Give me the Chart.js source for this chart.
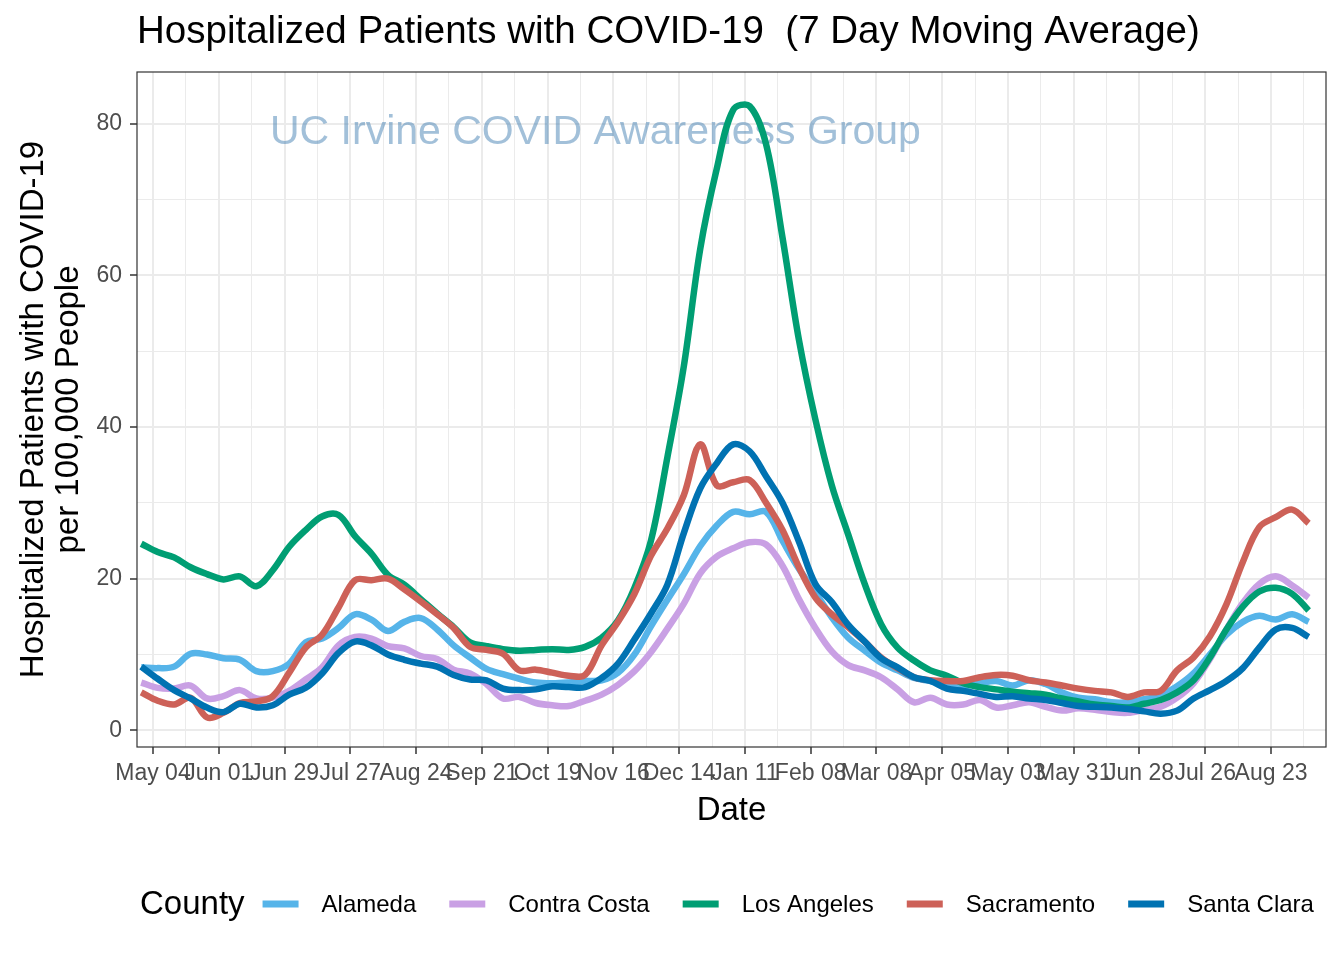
<!DOCTYPE html>
<html>
<head>
<meta charset="utf-8">
<title>Hospitalized Patients with COVID-19</title>
<script src="https://cdn.jsdelivr.net/npm/chart.js@4.4.0/dist/chart.umd.min.js"></script>
<style>
  html, body { margin: 0; padding: 0; background: #fff; }
  canvas { display: block; }
</style>
</head>
<body>
<canvas id="canvas" width="1344" height="960"></canvas>
<script>
// one value per week, first sample on 2020-04-29
var firstDate = Date.UTC(2020, 3, 29);
var tickOrigin = Date.UTC(2020, 4, 4);   // "May 04", labels every 28 days
var DAY = 864e5;

var counties = ['Alameda', 'Contra Costa', 'Los Angeles', 'Sacramento', 'Santa Clara'];
var colors = ['#56B4E9', '#C9A0E4', '#009E73', '#CD6158', '#0072B2'];

var alameda = [8.3, 8.2, 8.4, 10.1, 10.0, 9.5, 9.3, 7.8, 7.8, 8.8,
  11.6, 12.1, 13.5, 15.3, 14.6, 13.1, 14.3, 14.8, 13.3, 11.2,
  9.6, 8.1, 7.4, 6.8, 6.3, 6.2, 6.3, 6.5, 6.6, 7.6,
  10.0, 13.7, 17.2, 20.6, 24.3, 27.0, 28.8, 28.5, 28.8, 25.0,
  21.3, 18.2, 14.9, 12.2, 10.5, 8.9, 7.9, 6.9, 6.5, 6.0,
  5.8, 6.2, 6.5, 5.9, 6.6, 6.1, 5.0, 4.3, 4.1, 3.7,
  3.7, 4.1, 4.6, 5.8, 7.5, 10.0, 12.6, 14.3, 15.1, 14.6,
  15.3, 14.3];
var contraCosta = [6.3, 5.6, 5.5, 5.9, 4.2, 4.5, 5.3, 4.2, 4.3, 5.2,
  6.7, 8.3, 11.2, 12.3, 12.1, 11.1, 10.8, 9.8, 9.4, 8.0,
  7.5, 6.1, 4.2, 4.4, 3.6, 3.3, 3.2, 3.9, 4.7, 6.0,
  7.8, 10.3, 13.4, 16.7, 20.7, 22.9, 24.0, 24.8, 24.5, 21.7,
  17.3, 13.5, 10.4, 8.6, 7.9, 7.0, 5.4, 3.7, 4.3, 3.4,
  3.4, 4.0, 3.0, 3.3, 3.7, 3.1, 2.6, 2.9, 2.7, 2.4,
  2.3, 2.7, 3.1, 4.3, 6.2, 9.4, 13.3, 16.8, 19.3, 20.3,
  19.1, 17.5];
var losAngeles = [24.6, 23.5, 22.8, 21.5, 20.6, 19.9, 20.3, 19.0, 21.1, 24.2,
  26.4, 28.2, 28.4, 25.6, 23.3, 20.5, 19.2, 17.3, 15.4, 13.6,
  11.6, 11.1, 10.7, 10.5, 10.6, 10.7, 10.6, 11.0, 12.2, 14.5,
  18.8, 25.0, 36.0, 48.0, 63.5, 74.0, 81.8, 82.3, 77.3, 65.0,
  51.5, 41.0, 32.3, 25.8, 19.3, 14.0, 10.9, 9.2, 7.9, 7.2,
  6.2, 5.7, 5.4, 5.1, 4.9, 4.7, 4.2, 3.8, 3.4, 3.2,
  3.0, 3.5, 4.0, 5.0, 6.6, 9.6, 13.3, 16.3, 18.3, 18.8,
  18.0, 15.8];
var sacramento = [5.0, 3.9, 3.4, 4.3, 1.7, 2.3, 3.6, 3.8, 4.5, 7.6,
  10.9, 12.6, 16.2, 19.8, 19.8, 20.0, 18.6, 17.0, 15.3, 13.5,
  11.0, 10.6, 10.1, 7.9, 8.0, 7.6, 7.2, 7.3, 11.2, 14.3,
  18.0, 23.0, 26.6, 31.0, 37.7, 32.3, 32.7, 33.0, 30.0, 26.4,
  21.5, 17.5, 15.3, 13.6, 11.7, 9.6, 8.2, 7.0, 6.6, 6.5,
  6.5, 7.0, 7.3, 7.2, 6.6, 6.3, 5.9, 5.5, 5.2, 5.0,
  4.4, 5.0, 5.2, 7.9, 9.6, 12.4, 16.6, 22.2, 26.8, 28.1,
  29.1, 27.3];
var santaClara = [8.4, 6.8, 5.3, 4.2, 3.0, 2.4, 3.5, 3.0, 3.3, 4.7,
  5.6, 7.5, 10.2, 11.7, 11.2, 10.0, 9.3, 8.8, 8.4, 7.3,
  6.7, 6.6, 5.5, 5.3, 5.4, 5.8, 5.7, 5.7, 6.9, 8.8,
  12.0, 15.4, 19.2, 26.0, 31.9, 35.2, 37.7, 36.8, 33.5, 30.0,
  24.9, 19.3, 16.9, 13.9, 11.7, 9.5, 8.3, 7.0, 6.5, 5.5,
  5.2, 4.8, 4.4, 4.5, 4.2, 4.0, 3.6, 3.2, 3.1, 3.0,
  2.8, 2.5, 2.2, 2.6, 4.2, 5.3, 6.5, 8.2, 10.9, 13.3,
  13.5, 12.3];

var xTickLabels = ['May 04', 'Jun 01', 'Jun 29', 'Jul 27', 'Aug 24', 'Sep 21', 'Oct 19', 'Nov 16', 'Dec 14',
  'Jan 11', 'Feb 08', 'Mar 08', 'Apr 05', 'May 03', 'May 31', 'Jun 28', 'Jul 26', 'Aug 23'];
var yTickLabels = [0, 20, 40, 60, 80];

var FONT = '"Liberation Sans", Arial, Helvetica, sans-serif';
Chart.defaults.font.family = FONT;

function toPoints(values) {
  var start = (firstDate - tickOrigin) / DAY;
  return values.map(function (v, i) {
    return { x: start + 7 * i, y: v };
  });
}

var series = [alameda, contraCosta, losAngeles, sacramento, santaClara];
var datasets = series.map(function (vals, i) {
  return {
    label: counties[i],
    data: toPoints(vals),
    borderColor: colors[i],
    backgroundColor: colors[i],
    borderWidth: 6.5,
    pointRadius: 0,
    tension: 0.35,
    borderJoinStyle: 'round',
    order: series.length - i
  };
});

var decorations = {
  id: 'decorations',
  beforeDatasetsDraw: function (chart) {
    var ctx = chart.ctx;
    ctx.save();
    ctx.font = '41px ' + FONT;
    ctx.fillStyle = 'rgba(70,130,180,0.5)';
    ctx.textBaseline = 'alphabetic';
    ctx.fillText('UC Irvine COVID Awareness Group', 270, 144);
    ctx.restore();
  },
  afterDatasetsDraw: function (chart) {
    var a = chart.chartArea;
    var ctx = chart.ctx;
    ctx.save();
    ctx.strokeStyle = '#333333';
    ctx.lineWidth = 1.2;
    ctx.strokeRect(a.left, a.top, a.right - a.left, a.bottom - a.top);
    ctx.restore();
  },
  afterDraw: function (chart) {
    var ctx = chart.ctx;
    ctx.save();
    ctx.fillStyle = '#000';
    ctx.textBaseline = 'alphabetic';
    ctx.font = '38.5px ' + FONT;
    ctx.fillText('Hospitalized Patients with COVID-19  (7 Day Moving Average)', 137, 43);

    // legend, in one row under the plot
    var x = 140, y = 905;
    ctx.textBaseline = 'middle';
    ctx.font = '33px ' + FONT;
    ctx.fillText('County', x, y);
    x += ctx.measureText('County').width + 18;
    ctx.font = '24px ' + FONT;
    chart.data.datasets.forEach(function (ds) {
      ctx.strokeStyle = ds.borderColor;
      ctx.lineWidth = 7;
      ctx.beginPath();
      ctx.moveTo(x, y - 1);
      ctx.lineTo(x + 36, y - 1);
      ctx.stroke();
      x += 36 + 23;
      ctx.fillText(ds.label, x, y);
      x += ctx.measureText(ds.label).width + 33;
    });
    ctx.restore();
  }
};

function isMajorX(v) { return v % 28 === 0; }
function isMajorY(v) { return v % 20 === 0; }

var ctx = document.getElementById('canvas').getContext('2d');
var myChart = new Chart(ctx, {
  type: 'line',
  data: { datasets: datasets },
  options: {
    responsive: false,
    animation: false,
    events: [],
    layout: { padding: { top: 72, right: 18, bottom: 113, left: 0 } },
    plugins: {
      legend: { display: false },
      tooltip: { enabled: false }
    },
    scales: {
      x: {
        type: 'linear',
        min: -6.8,
        max: 499.4,
        afterBuildTicks: function (scale) {
          var t = [];
          xTickLabels.forEach(function (lab, i) {
            t.push({ value: 28 * i });
            if (28 * i + 14 <= scale.max) t.push({ value: 28 * i + 14 });
          });
          scale.ticks = t;
        },
        afterFit: function (scale) { scale.height = 100; },
        ticks: {
          autoSkip: false,
          maxRotation: 0,
          padding: 6,
          color: '#4d4d4d',
          font: { size: 23 },
          callback: function (v) { return isMajorX(v) ? xTickLabels[v / 28] : ''; }
        },
        grid: {
          color: '#ebebeb',
          lineWidth: function (c) { return c.tick && isMajorX(c.tick.value) ? 2 : 1; },
          tickColor: function (c) { return c.tick && isMajorX(c.tick.value) ? '#333333' : 'rgba(0,0,0,0)'; },
          tickLength: 7,
          tickWidth: 1.5
        },
        border: { display: false },
        title: {
          display: true,
          text: 'Date',
          color: '#000',
          font: { size: 33, lineHeight: 1.2 },
          padding: { top: 0, bottom: 16 }
        }
      },
      y: {
        min: -2.2,
        max: 86.8,
        afterBuildTicks: function (scale) {
          var t = [];
          yTickLabels.forEach(function (v) {
            t.push({ value: v });
            if (v + 10 <= scale.max) t.push({ value: v + 10 });
          });
          scale.ticks = t;
        },
        afterFit: function (scale) { scale.width = 137; },
        ticks: {
          padding: 8,
          color: '#4d4d4d',
          font: { size: 23 },
          callback: function (v) { return isMajorY(v) ? String(v) : ''; }
        },
        grid: {
          color: '#ebebeb',
          lineWidth: function (c) { return c.tick && isMajorY(c.tick.value) ? 2 : 1; },
          tickColor: function (c) { return c.tick && isMajorY(c.tick.value) ? '#333333' : 'rgba(0,0,0,0)'; },
          tickLength: 7,
          tickWidth: 1.5
        },
        border: { display: false },
        title: {
          display: true,
          text: ['Hospitalized Patients with COVID-19', 'per 100,000 People'],
          color: '#000',
          font: { size: 33, lineHeight: 1.06 },
          padding: { top: 16, bottom: 0 }
        }
      }
    }
  },
  plugins: [decorations]
});
</script>
</body>
</html>
